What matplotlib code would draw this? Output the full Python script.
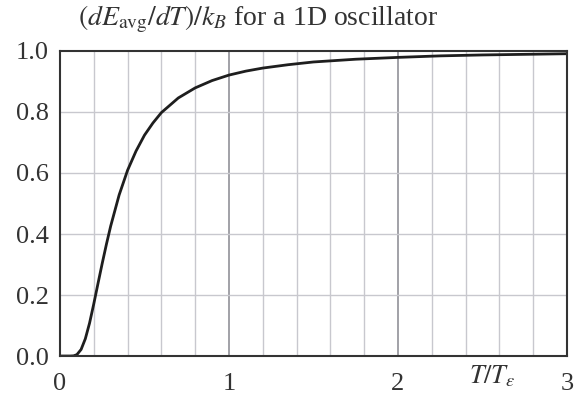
import matplotlib
matplotlib.use("Agg")
import matplotlib.pyplot as plt
import numpy as np

# values
t_vals = [0.0, 0.04, 0.06, 0.08, 0.10, 0.125, 0.15, 0.175, 0.20, 0.225, 0.25, 0.275, 0.30,
          0.35, 0.40, 0.45, 0.50, 0.55, 0.60, 0.70, 0.80, 0.90, 1.00, 1.10, 1.20, 1.35,
          1.50, 1.75, 2.00, 2.25, 2.50, 2.75, 3.00]
c_vals = [0.0, 0.0, 0.00001, 0.0005, 0.0045, 0.0215, 0.0566, 0.108, 0.171, 0.238, 0.304,
          0.367, 0.426, 0.528, 0.609, 0.672, 0.724, 0.764, 0.798, 0.846, 0.879, 0.903,
          0.921, 0.934, 0.944, 0.955, 0.964, 0.973, 0.979, 0.984, 0.987, 0.989, 0.991]
x_ticks = [0, 1, 2, 3]
y_ticks = [0.0, 0.2, 0.4, 0.6, 0.8, 1.0]

plt.rcParams['font.family'] = ['Liberation Serif', 'DejaVu Serif']
plt.rcParams['mathtext.fontset'] = 'stix'

fig = plt.figure(figsize=(5.74, 3.94), dpi=100)
ax = fig.add_axes([0.1045, 0.0964, 0.8833, 0.7742])

# grid
for xv in np.arange(0.2, 3.0, 0.2):
    major = abs(xv - round(xv)) < 1e-6
    ax.axvline(xv, color='#9a9aa0' if major else '#c8c8ce', lw=1.3 if major else 1.0, zorder=1)
for yv in y_ticks[1:-1]:
    ax.axhline(yv, color='#c8c8ce', lw=1.0, zorder=1)

ax.plot(t_vals, c_vals, color='#1e1e1e', lw=2.0, zorder=3, solid_capstyle='round')

ax.set_xlim(0, 3)
ax.set_ylim(0, 1.0)
ax.set_xticks(x_ticks)
ax.set_xticklabels([str(v) for v in x_ticks])
ax.set_yticks(y_ticks)
ax.set_yticklabels([f"{v:.1f}" for v in y_ticks])
ax.tick_params(length=0, labelsize=19, colors='#333333')
ax.tick_params(axis='y', pad=8)
ax.tick_params(axis='x', pad=12)
for s in ax.spines.values():
    s.set_color('#333333')
    s.set_linewidth(1.5)
    s.set_zorder(4)

fig.text(0.136, 0.952, r'$(dE_{\rm avg}/dT)/k_B$ for a 1D oscillator', fontsize=20,
         color='#333333', ha='left', va='center')
ax.text(2.56, 0.012, r'$T/T_\varepsilon$', fontsize=19, color='#333333',
        ha='center', va='bottom', transform=fig.transFigure and
        matplotlib.transforms.blended_transform_factory(ax.transData, fig.transFigure))

fig.savefig('out.png', dpi=100)
